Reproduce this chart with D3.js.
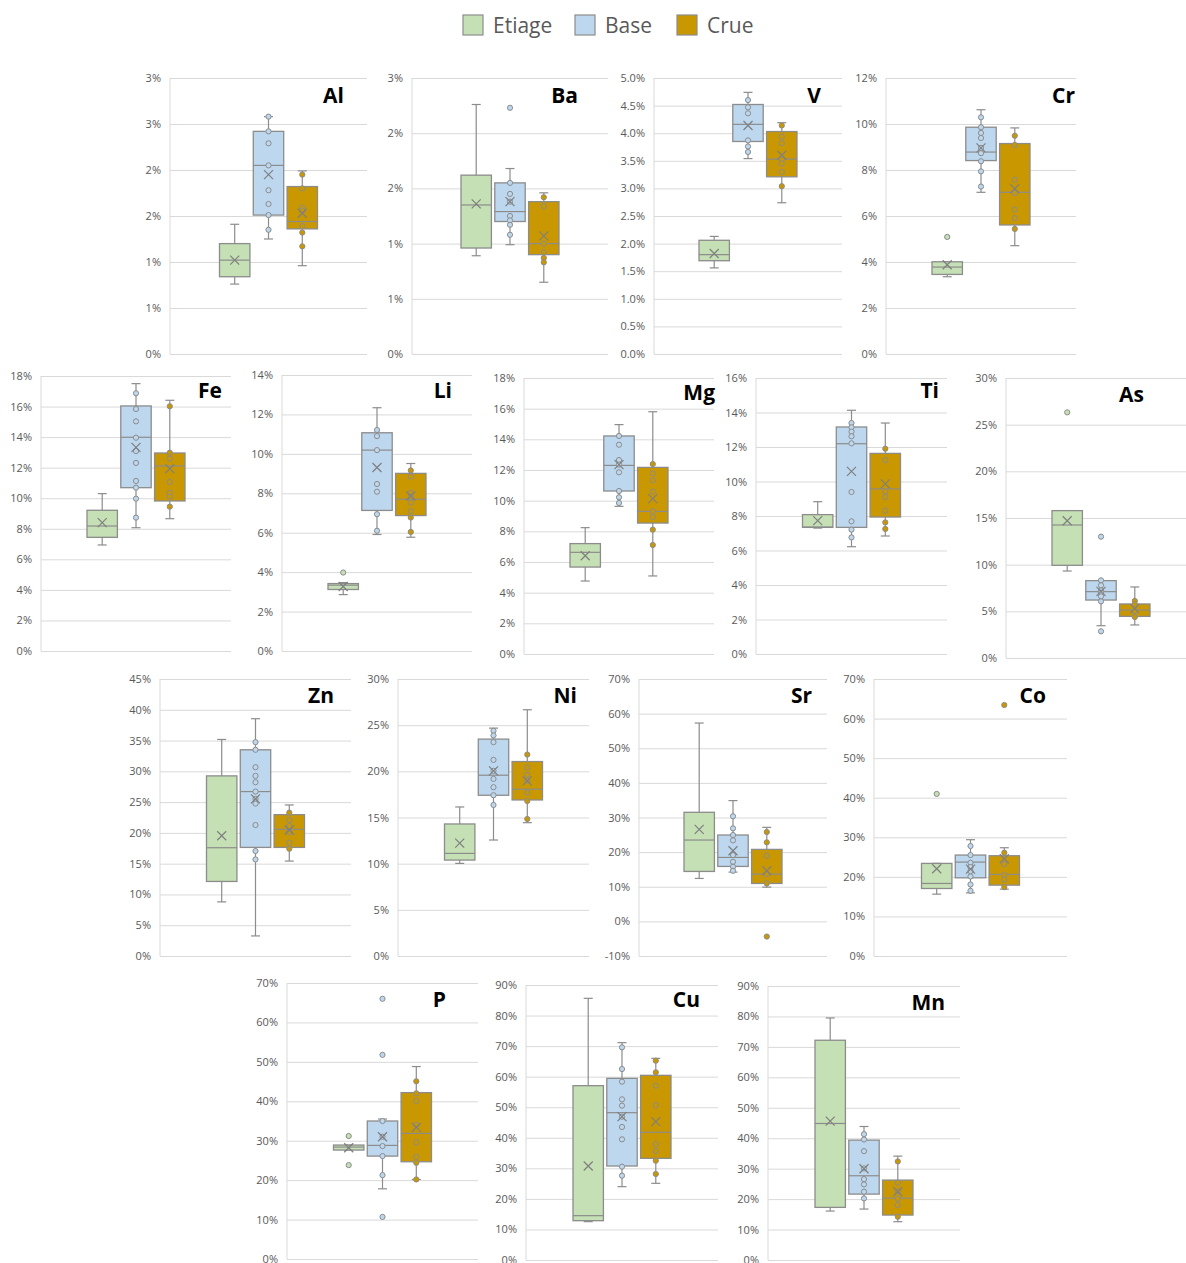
<!DOCTYPE html>
<html>
<head>
<meta charset="utf-8">
<script src="https://cdn.jsdelivr.net/npm/d3@7"></script>
<style>
  body { margin: 0; background: #fff; }
  svg { display: block; font-family: "Open Sans", sans-serif; }
</style>
</head>
<body>
<div class="chart"></div>
<script>

// Elements, one panel each
const elements = ["Al","Ba","V","Cr","Fe","Li","Mg","Ti","As","Zn","Ni","Sr","Co","P","Cu","Mn"];
const seriesNames = ["Etiage","Base","Crue"];

// Box stats in %: [low whisker, Q1, median, Q3, high whisker, mean]
const etiageStats = [
  [0.76, 0.84, 1.02, 1.20, 1.41, 1.02],
  [0.89, 0.96, 1.35, 1.62, 2.26, 1.36],
  [1.56, 1.69, 1.80, 2.06, 2.13, 1.82],
  [3.36, 3.46, 3.78, 4.01, 4.01, 3.88],
  [6.94, 7.44, 8.18, 9.21, 10.30, 8.40],
  [2.86, 3.12, 3.34, 3.42, 3.47, 3.27],
  [4.76, 5.67, 6.63, 7.20, 8.24, 6.41],
  [7.30, 7.34, 7.36, 8.08, 8.83, 7.73],
  [9.32, 9.93, 14.25, 15.79, 15.79, 14.71],
  [8.79, 12.11, 17.59, 29.26, 35.18, 19.54],
  [10.03, 10.39, 11.11, 14.30, 16.14, 12.23],
  [12.40, 14.42, 23.49, 31.50, 57.28, 26.58],
  [15.63, 17.06, 18.33, 23.40, 23.40, 22.04],
  [27.63, 27.63, 28.39, 28.90, 28.90, 28.22],
  [12.55, 12.87, 14.51, 57.05, 85.64, 30.76],
  [16.08, 17.28, 44.84, 72.18, 79.50, 45.60]
];
const baseStats = [
  [1.25, 1.51, 2.05, 2.42, 2.58, 1.95],
  [0.99, 1.20, 1.29, 1.55, 1.68, 1.38],
  [3.54, 3.85, 4.16, 4.52, 4.74, 4.14],
  [7.03, 8.41, 8.78, 9.86, 10.62, 8.96],
  [8.07, 10.69, 13.99, 16.04, 17.50, 13.33],
  [5.91, 7.13, 10.19, 11.07, 12.34, 9.31],
  [9.63, 10.63, 12.30, 14.22, 14.96, 12.35],
  [6.22, 7.34, 12.19, 13.16, 14.13, 10.59],
  [3.46, 6.21, 7.11, 8.29, 8.29, 7.14],
  [3.26, 17.64, 26.71, 33.50, 38.55, 25.52],
  [12.56, 17.41, 19.58, 23.49, 24.68, 20.05],
  [14.23, 15.87, 18.47, 24.94, 34.88, 20.41],
  [15.96, 19.76, 23.73, 25.51, 29.39, 21.96],
  [17.80, 26.10, 28.81, 35.00, 35.50, 31.00],
  [24.00, 30.76, 48.22, 59.45, 71.13, 46.91],
  [16.73, 21.65, 27.67, 39.37, 43.85, 29.96]
];
const crueStats = [
  [0.96, 1.36, 1.44, 1.82, 1.99, 1.53],
  [0.65, 0.90, 1.00, 1.38, 1.46, 1.07],
  [2.74, 3.21, 3.53, 4.03, 4.19, 3.60],
  [4.71, 5.61, 7.03, 9.15, 9.83, 7.19],
  [8.66, 9.82, 12.11, 12.96, 16.41, 11.94],
  [5.77, 6.87, 7.70, 9.01, 9.51, 7.86],
  [5.09, 8.54, 9.30, 12.17, 15.80, 10.13],
  [6.84, 7.94, 9.57, 11.63, 13.39, 9.86],
  [3.54, 4.46, 5.14, 5.79, 7.61, 5.29],
  [15.42, 17.64, 20.58, 22.96, 24.54, 20.47],
  [14.44, 16.90, 18.06, 21.06, 26.67, 18.96],
  [9.89, 10.95, 13.65, 20.79, 27.16, 14.61],
  [16.89, 17.91, 20.61, 25.34, 27.36, 24.58],
  [20.17, 24.66, 31.86, 42.20, 48.81, 33.39],
  [25.09, 33.27, 41.78, 60.44, 66.00, 45.27],
  [12.58, 14.76, 20.34, 26.25, 34.12, 22.42]
];

// Individual points (inner points and outliers), in %
const etiagePoints = [
  [], [], [], [5.09], [], [3.98], [], [], [26.32], [], [], [], [40.96], [31.19, 23.81], [], []
];
const basePoints = [
  [2.58, 2.42, 2.29, 2.05, 1.78, 1.63, 1.51, 1.35],
  [2.23, 1.55, 1.45, 1.38, 1.25, 1.21, 1.17, 1.08],
  [4.60, 4.47, 4.36, 3.87, 3.76, 3.66],
  [10.29, 9.86, 9.61, 9.39, 8.96, 8.73, 8.38, 7.94, 7.28],
  [16.87, 15.84, 15.03, 13.96, 13.09, 12.31, 11.13, 10.69, 9.97, 8.73],
  [11.21, 10.90, 10.19, 8.47, 8.08, 6.94, 6.10],
  [14.22, 13.65, 12.65, 12.35, 11.85, 10.63, 10.22, 9.85],
  [13.39, 13.14, 12.89, 12.62, 12.21, 9.39, 7.69, 7.21, 6.76],
  [13.00, 8.32, 7.79, 7.25, 7.00, 6.61, 6.07, 2.86],
  [34.74, 33.50, 30.67, 29.26, 28.23, 26.71, 25.52, 24.76, 21.28, 17.05, 15.69],
  [24.39, 23.89, 23.16, 21.24, 20.05, 19.18, 18.28, 17.41, 16.36],
  [30.35, 26.87, 24.94, 23.40, 19.15, 17.22, 15.77, 14.61],
  [27.79, 25.51, 23.56, 22.47, 21.45, 20.10, 18.07, 16.47],
  [66.00, 51.78, 35.00, 31.00, 28.64, 26.10, 21.27, 10.68],
  [69.60, 62.50, 58.36, 52.58, 50.51, 46.91, 43.53, 39.49, 30.55, 27.60],
  [41.34, 39.59, 35.76, 30.07, 26.57, 24.82, 22.42, 20.23]
];
const cruePoints = [
  [1.95, 1.80, 1.59, 1.56, 1.39, 1.32, 1.17],
  [1.42, 1.34, 1.00, 0.92, 0.87, 0.83],
  [4.14, 3.94, 3.82, 3.53, 3.45, 3.30, 3.04],
  [9.49, 9.09, 7.58, 7.00, 6.28, 5.91, 5.44],
  [16.02, 12.98, 12.59, 11.06, 10.36, 10.10, 9.45],
  [9.16, 8.85, 8.02, 7.82, 7.53, 7.09, 6.77, 6.04],
  [12.39, 11.78, 11.33, 10.59, 9.30, 8.93, 8.11, 7.11],
  [11.90, 11.23, 9.43, 9.10, 8.31, 7.63, 7.25],
  [6.11, 5.71, 5.00, 4.39],
  [23.29, 22.10, 21.12, 20.09, 18.40, 17.43],
  [21.82, 20.41, 19.62, 19.00, 17.70, 16.79, 14.84],
  [25.81, 22.82, 18.96, 13.65, 10.95, -4.38],
  [63.43, 26.10, 23.23, 20.44, 19.34, 17.40],
  [45.08, 42.03, 40.08, 33.98, 29.58, 25.93, 24.41, 20.17],
  [65.24, 61.42, 57.05, 50.62, 37.96, 35.67, 32.51, 28.15],
  [32.37, 25.37, 22.53, 20.12, 18.04, 14.22]
];

// Y axis of each panel: min, max, step, decimals of the labels
const yMin = [0, 0, 0, 0, 0, 0, 0, 0, 0, 0, 0, -10, 0, 0, 0, 0];
const yMax = [3, 2.5, 5, 12, 18, 14, 18, 16, 30, 45, 30, 70, 70, 70, 90, 90];
const yStep = [0.5, 0.5, 0.5, 2, 2, 2, 2, 2, 5, 5, 5, 10, 10, 10, 10, 10];
const yDecimals = [0, 0, 1, 0, 0, 0, 0, 0, 0, 0, 0, 0, 0, 0, 0, 0];

// Layout: plot area [left, top, right, bottom] and title [right x, baseline]
const panelRects = [
  [170, 78, 367, 354], [412, 78, 608, 354], [654, 78, 842, 354], [886, 78, 1076, 354],
  [41, 376, 231, 651], [282, 375, 472, 651], [524, 378, 714, 654], [756, 378, 947, 654], [1006, 378, 1196, 658],
  [160, 679, 351, 956], [398, 679, 589, 956], [639, 679, 827, 956], [874, 679, 1067, 956],
  [287, 983, 478, 1259], [526, 985, 718, 1260], [768, 986, 960, 1260]
];
const titlePos = [
  [344, 103], [578, 103], [821, 103], [1075, 103],
  [222, 398], [452, 398], [715, 400], [939, 398], [1144, 402],
  [334, 703], [577, 703], [812, 703], [1046, 703],
  [446, 1007], [700, 1007], [945, 1010]
];

const colors = {Etiage: "#C5E0B4", Base: "#BDD7EE", Crue: "#C99800"};
const edge = "#8c8c8c";

const width = 1186;
const height = 1263;

const svg = d3.select('.chart')
  .append('svg')
  .attr('width', width)
  .attr('height', height);

//Legend on top
const legendX = d3.scaleOrdinal().domain(seriesNames).range([463, 575, 677]);
const legend = svg.selectAll('.legend')
  .data(seriesNames)
  .enter()
  .append('g')
  .attr('class', 'legend')
  .attr('transform', d => `translate(${legendX(d)},15)`);

legend.append('rect')
  .attr('width', 20)
  .attr('height', 20)
  .attr('fill', d => colors[d])
  .attr('stroke', edge)
  .attr('stroke-width', 1.2);

legend.append('text')
  .attr('x', 30)
  .attr('y', 18)
  .attr('font-size', 21)
  .attr('fill', '#595959')
  .text(d => d);

function drawPanel(i){
  const r = panelRects[i];
  const plotWidth = r[2] - r[0];

  const yScale = d3.scaleLinear()
    .domain([yMin[i], yMax[i]])
    .range([r[3], r[1]]);

  const ticks = d3.range(yMin[i], yMax[i] + yStep[i]/2, yStep[i]);

  const g = svg.append('g').attr('class', 'panel');

  //Gridlines and tick labels
  const axis = g.append('g')
    .attr('transform', `translate(${r[0]},0)`)
    .call(d3.axisLeft(yScale)
      .tickValues(ticks)
      .tickSize(-plotWidth)
      .tickPadding(9)
      .tickFormat(d => d.toFixed(yDecimals[i]) + '%'));

  axis.select('.domain').remove();
  axis.selectAll('line').attr('stroke', '#d9d9d9');
  axis.selectAll('text')
    .attr('fill', '#595959')
    .attr('font-size', 11)
    .attr('font-family', '"Open Sans", sans-serif');

  //Vertical axis line
  g.append('line')
    .attr('x1', r[0]).attr('x2', r[0])
    .attr('y1', r[1]).attr('y2', r[3])
    .attr('stroke', '#d9d9d9');

  //Title
  g.append('text')
    .attr('x', titlePos[i][0])
    .attr('y', titlePos[i][1])
    .attr('text-anchor', 'end')
    .attr('font-size', 21)
    .attr('font-weight', 'bold')
    .attr('fill', '#000')
    .text(elements[i]);

  //Boxes, centred in the plot
  const cx = (r[0] + r[2]) / 2;
  const xScale = d3.scaleBand()
    .domain(seriesNames)
    .range([cx - 49, cx + 49])
    .paddingInner(0.1);

  const boxes = [
    {name: "Etiage", s: etiageStats[i], pts: etiagePoints[i]},
    {name: "Base", s: baseStats[i], pts: basePoints[i]},
    {name: "Crue", s: crueStats[i], pts: cruePoints[i]}
  ];

  boxes.forEach(function(b){
    const x0 = xScale(b.name);
    const bw = xScale.bandwidth();
    const mid = x0 + bw/2;
    const bg = g.append('g');

    //whiskers
    bg.append('line')
      .attr('x1', mid).attr('x2', mid)
      .attr('y1', yScale(b.s[0])).attr('y2', yScale(b.s[1]))
      .attr('stroke', edge).attr('stroke-width', 1.2);
    bg.append('line')
      .attr('x1', mid).attr('x2', mid)
      .attr('y1', yScale(b.s[3])).attr('y2', yScale(b.s[4]))
      .attr('stroke', edge).attr('stroke-width', 1.2);
    [b.s[0], b.s[4]].forEach(function(v){
      bg.append('line')
        .attr('x1', mid - 4.5).attr('x2', mid + 4.5)
        .attr('y1', yScale(v)).attr('y2', yScale(v))
        .attr('stroke', edge).attr('stroke-width', 1.2);
    });

    //box
    bg.append('rect')
      .attr('x', x0)
      .attr('y', yScale(b.s[3]))
      .attr('width', bw)
      .attr('height', Math.max(yScale(b.s[1]) - yScale(b.s[3]), 0.5))
      .attr('fill', colors[b.name])
      .attr('stroke', edge)
      .attr('stroke-width', 1.3);

    //median
    bg.append('line')
      .attr('x1', x0).attr('x2', x0 + bw)
      .attr('y1', yScale(b.s[2])).attr('y2', yScale(b.s[2]))
      .attr('stroke', edge).attr('stroke-width', 1.2);

    //points
    bg.selectAll('.pt')
      .data(b.pts)
      .enter()
      .append('circle')
      .attr('class', 'pt')
      .attr('cx', mid)
      .attr('cy', d => yScale(d))
      .attr('r', 2.6)
      .attr('fill', colors[b.name])
      .attr('stroke', edge)
      .attr('stroke-width', 1);

    //mean marker
    const my = yScale(b.s[5]);
    bg.append('path')
      .attr('d', `M${mid-4.5},${my-4.5}L${mid+4.5},${my+4.5}M${mid-4.5},${my+4.5}L${mid+4.5},${my-4.5}`)
      .attr('stroke', '#7f7f7f')
      .attr('stroke-width', 1.2)
      .attr('fill', 'none');
  });
}

for (var i = 0; i < elements.length; i++) {
  drawPanel(i);
}

</script>
</body>
</html>
